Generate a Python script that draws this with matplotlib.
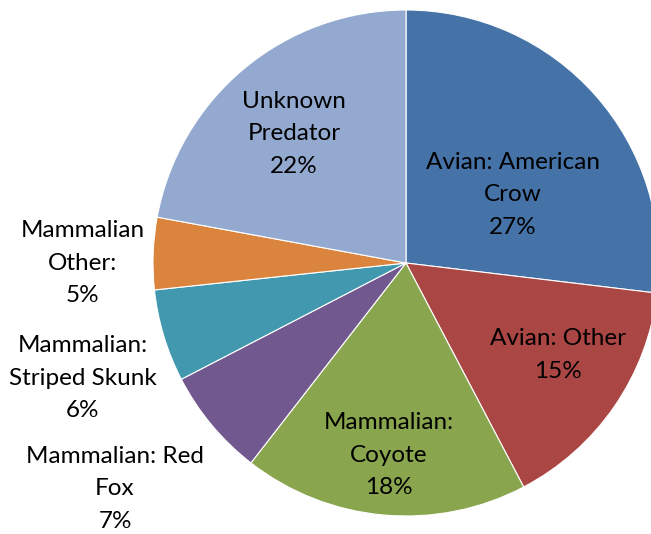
import matplotlib.pyplot as plt

# --- Data ---
labels = ["Avian: American\nCrow", "Avian: Other", "Mammalian:\nCoyote",
          "Mammalian: Red\nFox", "Mammalian:\nStriped Skunk",
          "Mammalian\nOther:", "Unknown\nPredator"]
shares = [26.9, 15.4, 18.2, 6.9, 5.9, 4.6, 22.1]
colors = ["#4572A7", "#AA4643", "#89A54E", "#71588F",
          "#4198AF", "#DB843D", "#93A9CF"]

# label centres in pie-radius units (Excel best-fit placement)
label_pos = [(0.423, 0.269), (0.601, -0.364), (-0.067, -0.759),
             (-1.150, -0.893), (-1.277, -0.455), (-1.277, 0.0),
             (-0.443, 0.510)]

plt.rcParams['font.family'] = ['Lato', 'DejaVu Sans']

fig = plt.figure(figsize=(6.51, 5.34), dpi=100)
ax = fig.add_axes([0, 0, 1, 1])

ax.pie(shares, colors=colors, startangle=90, counterclock=False,
       radius=1.0, wedgeprops=dict(edgecolor="white", linewidth=0.8))

total = sum(shares)
for lab, val, (x, y) in zip(labels, shares, label_pos):
    pct = int(val / total * 100 + 0.5)
    ax.text(x, y, f"{lab}\n{pct}%", ha="center", va="center",
            fontsize=17.5, color="black", linespacing=1.68)

ax.set_xlim(-406 / 253, 245 / 253)
ax.set_ylim(-271 / 253, 263 / 253)
ax.set_aspect("equal")
ax.axis("off")

fig.savefig("out.png", dpi=100, facecolor="white")
